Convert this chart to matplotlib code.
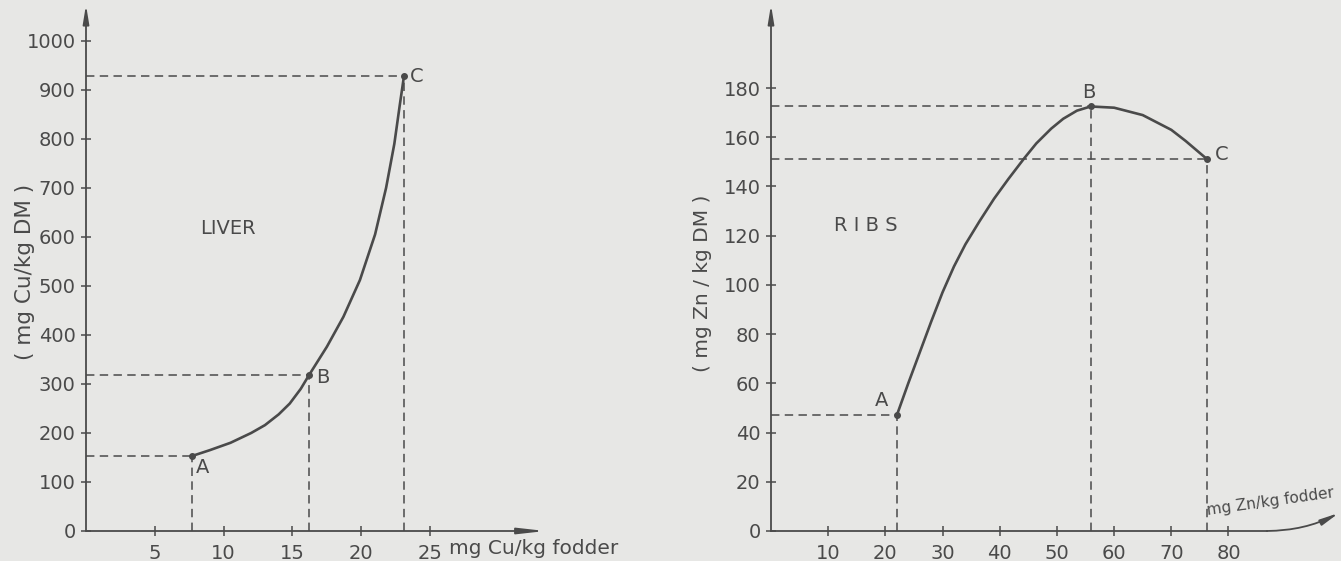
import matplotlib.pyplot as plt

# liver: Cu in liver vs Cu in fodder
liver_x = [7.7, 9.0, 10.5, 12.0, 13.0, 14.0, 14.8, 15.6, 16.2, 17.5, 18.7, 19.9,
           21.0, 21.8, 22.4, 22.8, 23.1]
liver_y = [153, 165, 180, 200, 216, 238, 260, 290, 318, 376, 437, 512,
           605, 700, 790, 870, 928]
liver_pts = {'A': (7.7, 153), 'B': (16.2, 318), 'C': (23.1, 928)}

# ribs: Zn in ribs vs Zn in fodder
ribs_x = [22.0, 24.0, 26.0, 28.0, 30.0, 32.0, 34.0, 36.5, 39.0, 41.5, 44.3,
          46.4, 49.0, 51.1, 53.5, 55.9, 60.0, 65.0, 70.0, 72.5, 76.3]
ribs_y = [47, 60, 72.5, 85, 97, 107.5, 116.5, 126, 135, 143, 151.5,
          157.5, 163.5, 167.5, 170.8, 172.5, 172, 169, 163, 158.5, 151]
ribs_pts = {'A': (22.0, 47), 'B': (55.9, 172.5), 'C': (76.3, 151)}

liver_yticks = list(range(0, 1001, 100))
liver_xticks = [5, 10, 15, 20, 25]
ribs_yticks = list(range(0, 181, 20))
ribs_xticks = list(range(10, 81, 10))

bg = '#e7e7e5'
ink = '#4a4a4a'
dash = (0, (5.5, 3.5))

W, H = 1341, 561
fig = plt.figure(figsize=(W / 100, H / 100), dpi=100, facecolor=bg)
plt.rcParams['font.family'] = 'DejaVu Sans'


def setup(ax, xlim, ylim, xticks, yticks):
    ax.set_facecolor('none')
    ax.set_xlim(*xlim)
    ax.set_ylim(*ylim)
    for s in ax.spines.values():
        s.set_visible(False)
    ax.set_xticks(xticks)
    ax.set_yticks(yticks)
    ax.tick_params(direction='inout', length=7, width=1.1, colors=ink,
                   labelsize=14, pad=4)
    ax.tick_params(axis='x', pad=6)
    # vertical axis with arrow
    ax.annotate('', xy=(0, 1.01), xycoords=('data', 'axes fraction'),
                xytext=(0, 0), textcoords=('data', 'axes fraction'),
                arrowprops=dict(arrowstyle='-|>,head_width=0.18,head_length=1.1',
                                color=ink, lw=1.3, shrinkA=0, shrinkB=0),
                annotation_clip=False)


# ---- left panel: LIVER
axL = fig.add_axes([86 / W, 30 / H, 457 / W, 521 / H])
setup(axL, (0, 33.2), (0, 1063), liver_xticks, liver_yticks)
axL.annotate('', xy=(1.005, 0), xycoords=('axes fraction', 'data'),
             xytext=(0, 0), textcoords=('data', 'data'),
             arrowprops=dict(arrowstyle='-|>,head_width=0.18,head_length=1.6',
                             color=ink, lw=1.3, shrinkA=0, shrinkB=0),
             annotation_clip=False)
axL.plot(liver_x, liver_y, color=ink, lw=1.9, solid_capstyle='round')
for name, (x, y) in liver_pts.items():
    axL.plot([0, x], [y, y], color=ink, lw=1.1, linestyle=dash)
    axL.plot([x, x], [0, y], color=ink, lw=1.1, linestyle=dash)
    axL.plot(x, y, 'o', color=ink, ms=4)
axL.text(24.0, 927, 'C', color=ink, fontsize=14, ha='center', va='center')
axL.text(17.2, 314, 'B', color=ink, fontsize=14, ha='center', va='center')
axL.text(8.5, 129, 'A', color=ink, fontsize=14, ha='center', va='center')
axL.text(10.3, 618, 'LIVER', color=ink, fontsize=14, ha='center', va='center')
axL.text(26.4, -35, 'mg Cu/kg fodder', color=ink, fontsize=14.5, ha='left',
         va='center', clip_on=False)
fig.text(25 / W, 1 - 272 / H, '( mg Cu/kg DM )', color=ink, fontsize=15.5,
         rotation=90, ha='center', va='center')

# ---- right panel: RIBS
axR = fig.add_axes([771 / W, 30 / H, (1340 - 771) / W, 521 / H])
setup(axR, (0, 99.5), (0, 211.7), ribs_xticks, ribs_yticks)
axR.plot([0, 86.7], [0, 0], color=ink, lw=1.3, clip_on=False)
axR.annotate('', xy=(99.3, 7.3), xytext=(86.7, 0),
             arrowprops=dict(arrowstyle='-|>,head_width=0.18,head_length=1.1',
                             color=ink, lw=1.3, shrinkA=0, shrinkB=0,
                             connectionstyle='arc3,rad=0.12'),
             annotation_clip=False)
axR.plot(ribs_x, ribs_y, color=ink, lw=1.9, solid_capstyle='round')
for name, (x, y) in ribs_pts.items():
    axR.plot([0, x], [y, y], color=ink, lw=1.1, linestyle=dash)
    axR.plot([x, x], [0, y], color=ink, lw=1.1, linestyle=dash)
    axR.plot(x, y, 'o', color=ink, ms=4)
axR.text(55.6, 178, 'B', color=ink, fontsize=14, ha='center', va='center')
axR.text(78.8, 152.8, 'C', color=ink, fontsize=14, ha='center', va='center')
axR.text(19.4, 53.2, 'A', color=ink, fontsize=14, ha='center', va='center')
axR.text(16.6, 124, 'R I B S', color=ink, fontsize=14, ha='center', va='center')
axR.text(76.4, 6.5, 'mg Zn/kg fodder', color=ink, fontsize=11, ha='left',
         va='baseline', rotation=8, rotation_mode='anchor', clip_on=False)
fig.text(703 / W, 1 - 283 / H, '( mg Zn / kg DM )', color=ink, fontsize=14.5,
         rotation=90, ha='center', va='center')

fig.savefig('out.png', dpi=100, facecolor=bg)
